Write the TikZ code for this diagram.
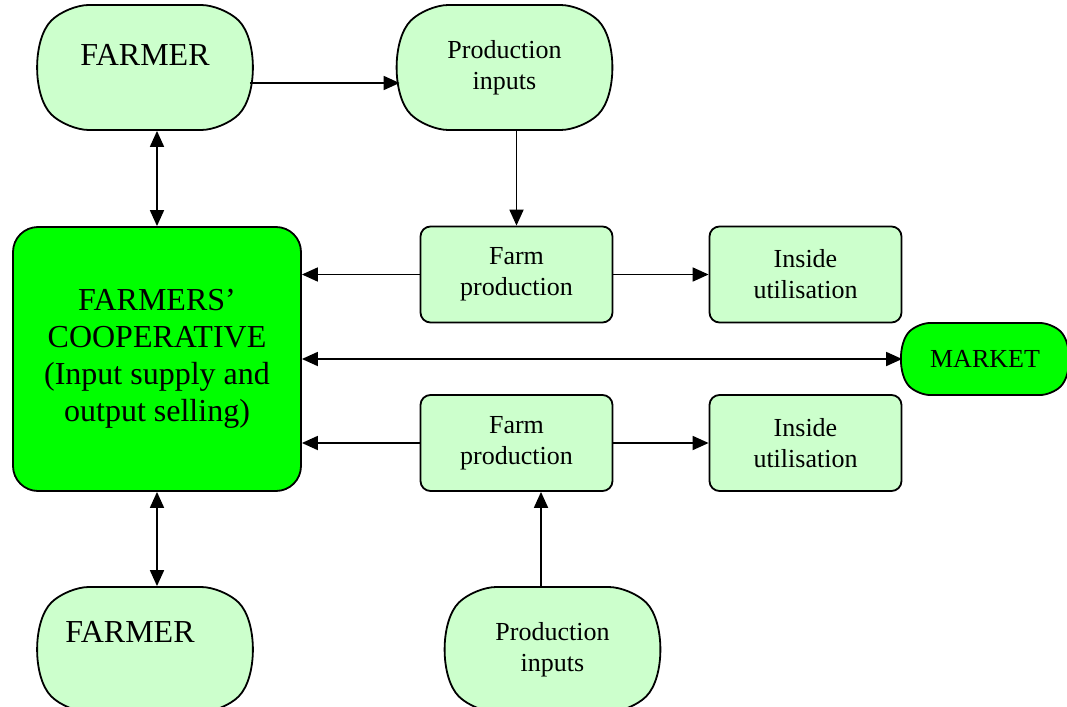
\documentclass[tikz,border=0pt]{standalone}
\usepackage{fontspec}
\setmainfont{Liberation Serif}
\usetikzlibrary{shapes.misc,arrows.meta}

\definecolor{paleGreen}{HTML}{CCFFCC}
\definecolor{brightGreen}{HTML}{00FF00}

\begin{document}
\begin{tikzpicture}[x=1pt,y=-1pt]
  \tikzset{PillStyle/.style = {
  shape = rounded rectangle,
  rounded rectangle arc length = 90,
  rounded corners = 22pt,
  fill = paleGreen,
  line width = 1.8pt,
  minimum width = 208pt,
  minimum height = 125pt,
  inner sep = 0pt,
  align = center,
  font = \fontsize{26}{31}\selectfont,
  draw}}
  \tikzset{BoxStyle/.style = {
  shape = rectangle,
  rounded corners = 10pt,
  fill = paleGreen,
  line width = 1.8pt,
  minimum width = 192pt,
  minimum height = 96pt,
  inner sep = 0pt,
  align = center,
  font = \fontsize{26}{31}\selectfont,
  draw}}
  \tikzset{BigText/.style = {font = \fontsize{32}{37}\selectfont, inner sep = 0pt}}
  \tikzset{Link/.style = {line width = 1.8pt, -{Triangle[length=16pt,width=14pt]}}}
  \tikzset{BothLink/.style = {line width = 1.8pt,
  {Triangle[length=16pt,width=14pt]}-{Triangle[length=16pt,width=14pt]}}}
  \path[use as bounding box, clip] (0,0) rectangle (1067,706);
  % top row
  \node[PillStyle] (FarmerTop) at (145,67.5) {};
  \node[BigText] (FarmerTopText) at (145,55) {FARMER};
  \node[PillStyle] (InputsTop) at (504.5,67.5) {Production\\inputs};
  % cooperative and middle rows
  \node[BoxStyle, rounded corners = 25pt, fill = brightGreen,
  minimum width = 288pt, minimum height = 264pt,
  font = \fontsize{32}{37}\selectfont] (Coop) at (157,359)
  {FARMERS'\\COOPERATIVE\\(Input supply and\\output selling)};
  \node[BoxStyle] (ProdA) at (516.5,274.5) {Farm\\production};
  \node[BoxStyle] (UseA) at (805.5,274.5) {Inside\\utilisation};
  \node[PillStyle, fill = brightGreen, rounded corners = 12pt,
  minimum width = 164pt, minimum height = 72pt] (Market) at (985,359) {MARKET};
  \node[BoxStyle] (ProdB) at (516.5,443) {Farm\\production};
  \node[BoxStyle] (UseB) at (805.5,443) {Inside\\utilisation};
  % bottom row
  \node[PillStyle] (FarmerBot) at (145,649.5) {};
  \node[BigText] (FarmerBotText) at (130,632) {FARMER};
  \node[PillStyle] (InputsBot) at (552.5,649.5) {Production\\inputs};
  % connectors
  \draw[Link] ([yshift=-15.5pt]FarmerTop.east) -- ([yshift=-15.5pt]InputsTop.west);
  \draw[Link] (InputsTop.south -| ProdA.north) -- (ProdA.north);
  \draw[BothLink] (FarmerTop.south -| Coop.north) -- (Coop.north);
  \draw[Link] (ProdA.west) -- (Coop.east |- ProdA.west);
  \draw[Link] (ProdA.east) -- (UseA.west);
  \draw[BothLink] (Coop.east |- Market.west) -- (Market.west);
  \draw[Link] (ProdB.west) -- (Coop.east |- ProdB.west);
  \draw[Link] (ProdB.east) -- (UseB.west);
  \draw[BothLink] (Coop.south) -- (FarmerBot.north -| Coop.south);
  \draw[Link] ([xshift=-11.5pt]InputsBot.north) -- ([xshift=24.5pt]ProdB.south);
\end{tikzpicture}
\end{document}
